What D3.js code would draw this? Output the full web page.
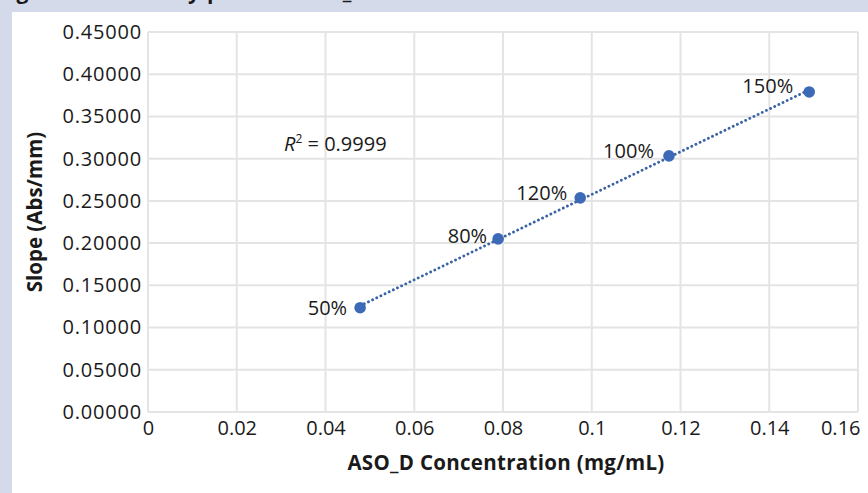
<!DOCTYPE html>
<html>
<head>
<meta charset="utf-8">
<script src="https://cdn.jsdelivr.net/npm/d3@7"></script>
<style>
  html, body { margin: 0; padding: 0; background: #d4daea; }
  svg { display: block; }
  text { font-family: "Open Sans", "Noto Sans", sans-serif; fill: #1a1a1a; }
</style>
</head>
<body>
<div id="chart"></div>
<script>
// values
const pointLabels = ["50%", "80%", "120%", "100%", "150%"];
const concentration = [0.0478, 0.0789, 0.0974, 0.1174, 0.1490];
const slope = [0.1235, 0.2050, 0.2536, 0.3033, 0.3790];
const xTicks = [0, 0.02, 0.04, 0.06, 0.08, 0.1, 0.12, 0.14, 0.16];
const yTicks = [0, 0.05, 0.1, 0.15, 0.2, 0.25, 0.3, 0.35, 0.4, 0.45];
const rSquared = "0.9999";

const W = 868, H = 493;
const margin = { top: 32, right: 10, bottom: 81, left: 148 };
const width = W - margin.left - margin.right;
const height = H - margin.top - margin.bottom;
const font = "'Open Sans', 'Noto Sans', sans-serif";

const svg = d3.select("#chart").append("svg")
    .attr("width", W)
    .attr("height", H);

// caption strip, mostly cut off at the top edge
svg.append("text")
    .attr("x", -3)
    .attr("y", -1.5)
    .style("font-size", "21px")
    .style("font-weight", "bold")
    .style("letter-spacing", "0.8px")
    .text("Figure 5: Linearity plot for ASO_D");

svg.append("rect")
    .attr("x", 12).attr("y", 12)
    .attr("width", W - 12).attr("height", H - 12)
    .attr("fill", "#fff");

const g = svg.append("g")
    .attr("transform", `translate(${margin.left},${margin.top})`);

const x = d3.scaleLinear().domain([0, 0.16]).range([0, width]);
const y = d3.scaleLinear().domain([0, 0.45]).range([height, 0]);

// grid
g.append("g").selectAll("line").data(xTicks).join("line")
    .attr("x1", d => x(d)).attr("x2", d => x(d))
    .attr("y1", 0).attr("y2", height)
    .attr("stroke", "#e4e4e4").attr("stroke-width", 2);
g.append("g").selectAll("line").data(yTicks).join("line")
    .attr("x1", 0).attr("x2", width)
    .attr("y1", d => y(d)).attr("y2", d => y(d))
    .attr("stroke", "#e4e4e4").attr("stroke-width", 2);

// axes (labels only)
const xAxis = d3.axisBottom(x).tickValues(xTicks).tickSize(0).tickPadding(9)
    .tickFormat(d => d === 0 ? "0" : String(+d.toFixed(2)));
const gx = g.append("g")
    .attr("transform", `translate(0,${height})`)
    .call(xAxis);
gx.select(".domain").remove();
gx.selectAll("text").style("font-size", "20px").attr("fill", "#1a1a1a")
    .style("font-family", font);
gx.selectAll(".tick").filter(d => d === 0.16).select("text")
    .attr("text-anchor", "end").attr("x", 2);

const yAxis = d3.axisLeft(y).tickValues(yTicks).tickSize(0).tickPadding(6)
    .tickFormat(d3.format(".5f"));
const gy = g.append("g").call(yAxis);
gy.select(".domain").remove();
gy.selectAll("text").style("font-size", "20px").attr("fill", "#1a1a1a")
    .style("font-family", font)
    .style("letter-spacing", "0.8px");

// axis titles
svg.append("text")
    .attr("x", 506)
    .attr("y", 470)
    .attr("text-anchor", "middle")
    .style("font-size", "20.5px")
    .style("font-weight", "bold")
    .style("letter-spacing", "0.3px")
    .text("ASO_D Concentration (mg/mL)");

svg.append("text")
    .attr("transform", `translate(42,212) rotate(-90)`)
    .attr("text-anchor", "middle")
    .style("font-size", "20.5px")
    .style("font-weight", "bold")
    .text("Slope (Abs/mm)");

// linear trendline
const pts = concentration.map((c, i) => ({ x: c, y: slope[i], label: pointLabels[i] }));
const mx = d3.mean(pts, d => d.x), my = d3.mean(pts, d => d.y);
const b = d3.sum(pts, d => (d.x - mx) * (d.y - my)) / d3.sum(pts, d => (d.x - mx) ** 2);
const a = my - b * mx;
const xMin = d3.min(concentration), xMax = d3.max(concentration);

g.append("line")
    .attr("x1", x(xMin)).attr("y1", y(a + b * xMin))
    .attr("x2", x(xMax)).attr("y2", y(a + b * xMax))
    .attr("stroke", "#3a63a6")
    .attr("stroke-width", 2.8)
    .attr("stroke-linecap", "round")
    .attr("stroke-dasharray", "0.1,4.5");

g.selectAll("circle").data(pts).join("circle")
    .attr("cx", d => x(d.x))
    .attr("cy", d => y(d.y))
    .attr("r", 5.8)
    .attr("fill", "#3d6ab7");

// label offsets: [dx, baseline dy]
const labelOffset = [[-13, 7], [-11, 4], [-13, 2], [-15, 2], [-16, 1]];
g.selectAll(".plabel").data(pts).join("text")
    .attr("class", "plabel")
    .attr("x", (d, i) => x(d.x) + labelOffset[i][0])
    .attr("y", (d, i) => y(d.y) + labelOffset[i][1])
    .attr("text-anchor", "end")
    .style("font-size", "20px")
    .text(d => d.label);

// R squared
const r2 = svg.append("text")
    .attr("x", 284)
    .attr("y", 151)
    .style("font-size", "20px");
r2.append("tspan").style("font-style", "italic").text("R");
r2.append("tspan").attr("dy", -8).style("font-size", "12px").text("2");
r2.append("tspan").attr("dy", 8).text(" = " + rSquared);
</script>
</body>
</html>
